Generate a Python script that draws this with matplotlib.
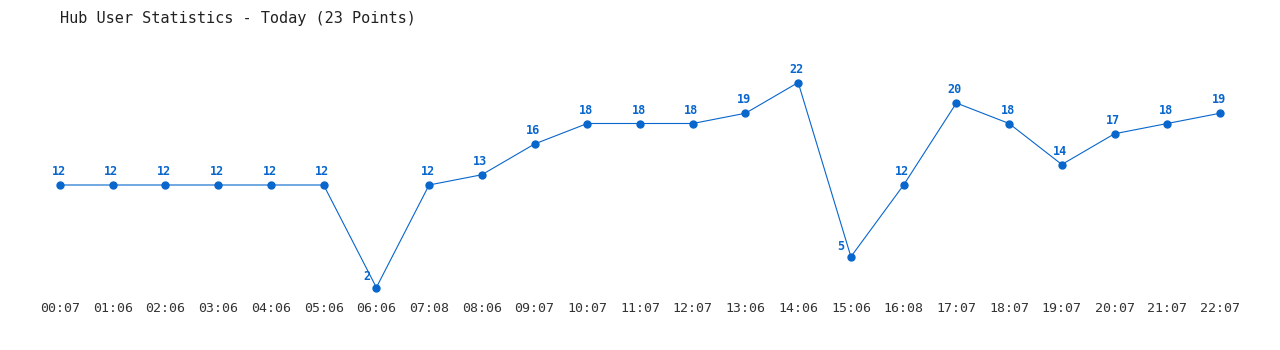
import matplotlib.pyplot as plt

times = ['00:07', '01:06', '02:06', '03:06', '04:06', '05:06', '06:06', '07:08',
         '08:06', '09:07', '10:07', '11:07', '12:07', '13:06', '14:06', '15:06',
         '16:08', '17:07', '18:07', '19:07', '20:07', '21:07', '22:07']
users = [12, 12, 12, 12, 12, 12, 2, 12, 13, 16, 18, 18, 18, 19, 22, 5, 12, 20, 18, 14, 17, 18, 19]

blue = '#0866cc'
mono = 'DejaVu Sans Mono'

fig = plt.figure(figsize=(12.8, 3.5), dpi=100)
# axes: x from px 60 to 1220, y value 1.27 at px 295, 22 at px 82.5
ax = fig.add_axes([60 / 1280, (350 - 295) / 350, 1160 / 1280, (295 - 82.5) / 350])

x = list(range(len(users)))
ax.plot(x, users, color=blue, linewidth=0.8, marker='o', markersize=5,
        markerfacecolor=blue, markeredgecolor=blue, clip_on=False)

for i, v in enumerate(users):
    if v < 10:
        off = (-7, 3)
    else:
        off = (-1, 5)
    ax.annotate(str(v), (i, v), xytext=off, textcoords='offset points',
                ha='center', va='bottom', color=blue, fontsize=8.5,
                fontweight='bold', family=mono)

ax.set_xlim(0, 22)
ax.set_ylim(12 - (295 - 185) / 10.25, 22)
ax.set_xticks(x)
ax.set_xticklabels(times, family=mono, fontsize=9.5, color='#333333')
ax.tick_params(axis='x', length=0, pad=5)
ax.set_yticks([])
for s in ax.spines.values():
    s.set_visible(False)

fig.text(60 / 1280, 1 - 18 / 350, 'Hub User Statistics - Today (23 Points)',
         family=mono, fontsize=11, color='#222222', va='center', ha='left')

fig.savefig('out.png', dpi=100)
